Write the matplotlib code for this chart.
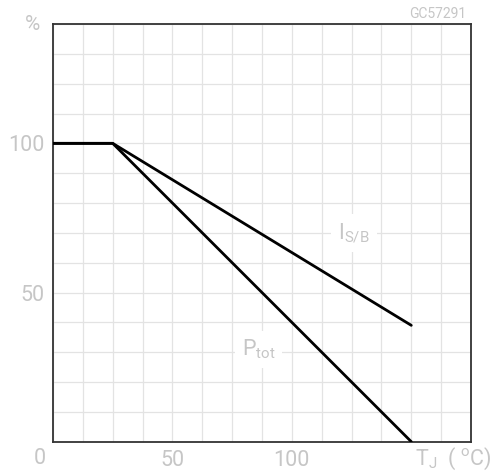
import numpy as np
import matplotlib.pyplot as plt

# derating curves, junction temperature in degC vs percent
temp_isb = [0, 25, 150]
pct_isb = [100, 100, 39]
temp_ptot = [0, 25, 150]
pct_ptot = [100, 100, 0]

xticks = [50, 100]
yticks = [50, 100]

label_grey = '#c6c6c6'
plt.rcParams['font.family'] = ['Roboto', 'DejaVu Sans']
plt.rcParams['mathtext.fontset'] = 'custom'
plt.rcParams['mathtext.rm'] = 'Roboto'

fig = plt.figure(figsize=(4.92, 4.72), dpi=100)
ax = fig.add_axes([53/492, 1 - 441.7/472, (471 - 53)/492, (441.7 - 24)/472])

ax.plot(temp_isb, pct_isb, color='black', lw=2.0, solid_capstyle='round', zorder=3)
ax.plot(temp_ptot, pct_ptot, color='black', lw=2.0, solid_capstyle='round', zorder=3)

ax.set_xlim(0, 175)
ax.set_ylim(0, 140)
ax.set_xticks(np.arange(0, 176, 12.5), minor=True)
ax.set_yticks(np.arange(0, 141, 10), minor=True)
ax.set_xticks(xticks)
ax.set_yticks(yticks)
ax.set_xticklabels([str(t) for t in xticks])
ax.set_yticklabels([str(t) for t in yticks])
ax.grid(which='both', color='#e3e3e3', lw=0.9, zorder=0)
ax.tick_params(which='both', length=0, labelsize=15.5, labelcolor=label_grey, pad=6)

for s in ax.spines.values():
    s.set_color('#333333')
    s.set_linewidth(1.3)

# corner and axis captions
fig.text(40/492, 1 - 459/472, '0', ha='center', va='center', fontsize=15.5, color=label_grey)
fig.text(33/492, 1 - 25/472, '%', ha='center', va='center', fontsize=15, color=label_grey)
fig.text(415/492, 1 - 459/472, r'T$_\mathregular{J}$  ( $^\mathregular{o}$C)', ha='left', va='center',
         fontsize=15.5, color=label_grey)
fig.text(466/492, 1 - 14/472, 'GC57291', ha='right', va='center', fontsize=10, color=label_grey)

# curve names
box = dict(facecolor='white', edgecolor='none', pad=5)
ax.text(126, 70, r'I$_\mathregular{S/B}$', ha='center', va='center', fontsize=15.5,
        color=label_grey, bbox=box, zorder=2)
ax.text(86, 31, r'P$_\mathregular{tot}$', ha='center', va='center', fontsize=15.5,
        color=label_grey, bbox=box, zorder=2)

fig.savefig('out.png', dpi=100)
